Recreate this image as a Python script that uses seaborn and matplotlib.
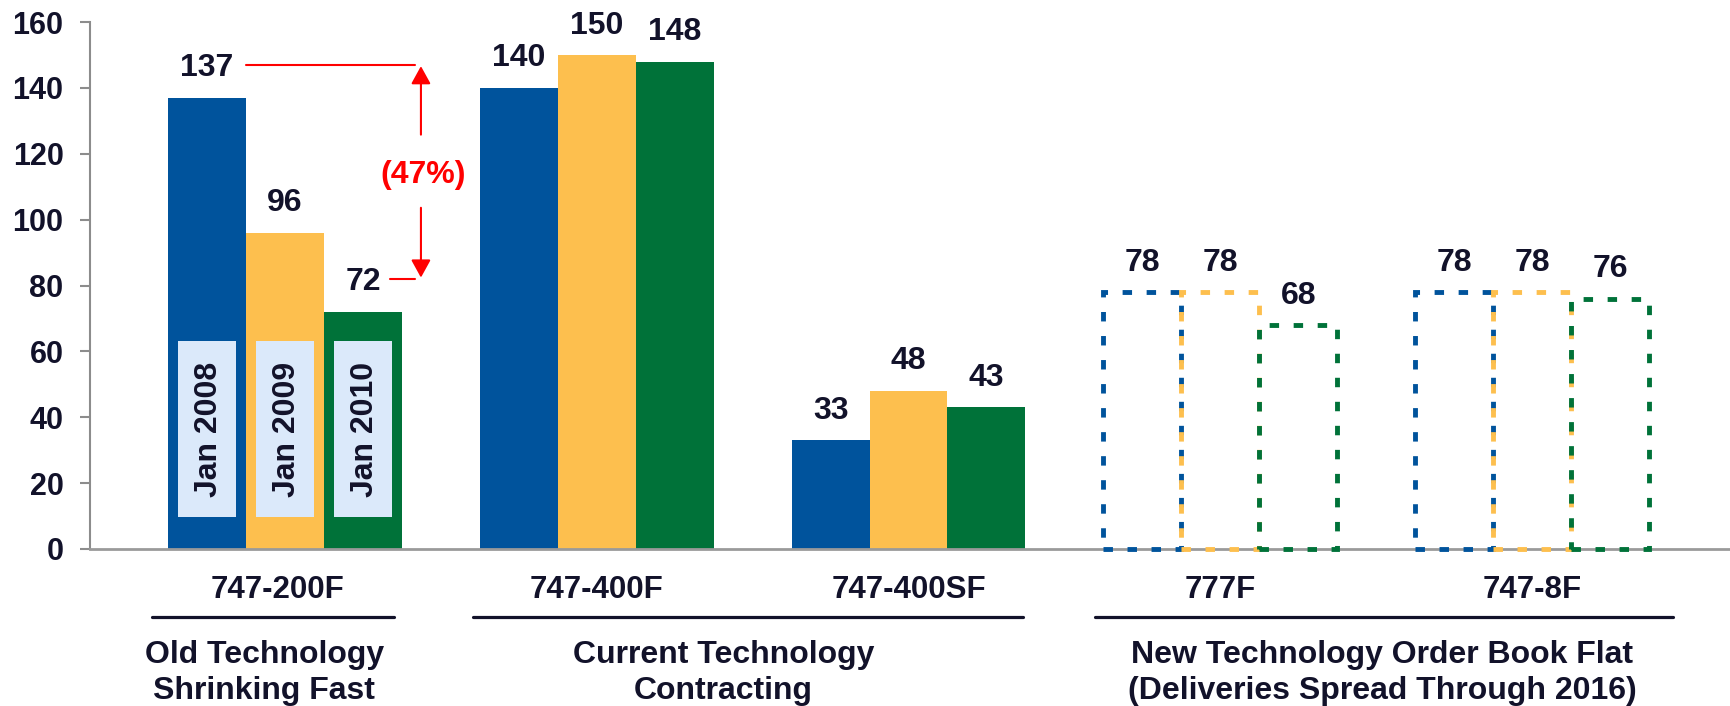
import matplotlib
matplotlib.use("Agg")
import matplotlib.pyplot as plt
from matplotlib.patches import Rectangle
from matplotlib.lines import Line2D
import seaborn as sns
import pandas as pd

# ---------------- data ----------------
aircraft = ["747-200F", "747-400F", "747-400SF", "777F", "747-8F"]
periods = ["Jan 2008", "Jan 2009", "Jan 2010"]
jan2008 = [137, 140, 33, 78, 78]
jan2009 = [96, 150, 48, 78, 78]
jan2010 = [72, 148, 43, 68, 76]
order_book = ["777F", "747-8F"]          # shown as dashed outlines
group_titles = ["Old Technology\nShrinking Fast",
                "Current Technology\nContracting",
                "New Technology Order Book Flat\n(Deliveries Spread Through 2016)"]
group_members = [["747-200F"], ["747-400F", "747-400SF"], ["777F", "747-8F"]]
y_ticks = [0, 20, 40, 60, 80, 100, 120, 140, 160]

# ---------------- style ----------------
colors = ["#00539C", "#FDBF4E", "#007239"]
navy = "#12122a"
red = "#FF0000"
box_col = "#DBE9FA"
FS = 23
FS_TICK = 22

sns.set_theme(style="white")
plt.rcParams["font.family"] = ["Liberation Sans", "DejaVu Sans"]
plt.rcParams["font.weight"] = "bold"
plt.rcParams["lines.scale_dashes"] = False

df = pd.DataFrame({
    "aircraft": aircraft * 3,
    "period": [p for p in periods for _ in aircraft],
    "count": jan2008 + jan2009 + jan2010,
})

W, H = 1730, 706
fig = plt.figure(figsize=(W / 100, H / 100), dpi=100)
ax_l, ax_r, ax_t, ax_b = 90, 1730, 22, 549
ax = fig.add_axes([ax_l / W, 1 - ax_b / H, (ax_r - ax_l) / W, (ax_b - ax_t) / H])

sns.barplot(data=df, x="aircraft", y="count", hue="period", order=aircraft,
            hue_order=periods, palette=colors, width=0.75, gap=0,
            saturation=1, errorbar=None, legend=False, linewidth=0, ax=ax)

ax.set_xlim(-0.6255, 4.635)
ax.set_ylim(0, 160)
ax.set_yticks(y_ticks)
ax.set_yticklabels([str(t) for t in y_ticks], fontsize=FS_TICK, fontweight="bold", color=navy)
ax.tick_params(axis="y", length=7, width=1.5, color="#8c8c8c", pad=12, left=True)
ax.set_xticks([])
ax.set_xlabel("")
ax.set_ylabel("")
for s in ["top", "right"]:
    ax.spines[s].set_visible(False)
ax.spines["left"].set_color("#8c8c8c")
ax.spines["left"].set_linewidth(1.5)
ax.spines["bottom"].set_color("#9a9a9a")
ax.spines["bottom"].set_linewidth(2)

ppu_y = (ax_b - ax_t) / 160.0

vals = {p: v for p, v in zip(periods, [jan2008, jan2009, jan2010])}
label_off = 10.0                           # label centre above bar top (data units)
base_shift = 11.5 / ppu_y                  # centre -> baseline
bar_pos = {}
for hi, cont in enumerate(ax.containers):
    for bar in cont:
        xc = bar.get_x() + bar.get_width() / 2
        ci = int(round(xc))
        cat = aircraft[ci]
        v = vals[periods[hi]][ci]
        bar_pos[(periods[hi], cat)] = (xc, bar.get_width(), v)
        if cat in order_book:
            bar.set_facecolor("none")
            bar.set_edgecolor(colors[hi])
            bar.set_linewidth(3.5)
            bar.set_linestyle((0, (6.8, 10.5)))
            bar.set_clip_on(False)
            bar.set_zorder(3)
        ax.text(xc, v + label_off - base_shift, str(v), ha="center", va="baseline",
                fontsize=FS, fontweight="bold", color=navy)

# period labels inside first group's bars
for hi, p in enumerate(periods):
    xc, bw, v = bar_pos[(p, aircraft[0])]
    bx = 0.186
    ax.add_patch(Rectangle((xc - bx / 2, 9.7), bx, 53.5, facecolor=box_col,
                           edgecolor="none", zorder=3))
    ax.text(xc + 0.005, 36.4, p, rotation=90, ha="center", va="center",
            fontsize=FS, fontweight="bold", color=navy, zorder=4)

# red (47%) annotation
c0 = aircraft[0]
x0, bw, v0 = bar_pos[(periods[0], c0)]
x2, _, v2 = bar_pos[(periods[-1], c0)]
top_y = v0 + label_off
bot_y = v2 + label_off
mid_y = (top_y + bot_y) / 2
arr_x = 0.436
ax.add_line(Line2D([x0 + bw / 2, arr_x - 0.02], [top_y, top_y], color=red, lw=1.5))
ax.add_line(Line2D([x2 + 0.087, arr_x - 0.02], [bot_y, bot_y], color=red, lw=1.5))
aprops = dict(arrowstyle="-|>,head_length=0.4,head_width=0.22", color=red, lw=1.5,
              shrinkA=0, shrinkB=0, mutation_scale=27)
ax.annotate("", xy=(arr_x, top_y - 0.4), xytext=(arr_x, mid_y + 11.3), arrowprops=aprops)
ax.annotate("", xy=(arr_x, bot_y + 0.4), xytext=(arr_x, mid_y - 10.9), arrowprops=aprops)
pct = round((v2 - v0) / v0 * 100)
ax.text(arr_x + 0.007, mid_y - base_shift, f"({abs(pct)}%)", ha="center", va="baseline",
        fontsize=FS, fontweight="bold", color=red)

# category labels, underlines and group titles below the axis
xt = ax.get_xaxis_transform()
def yfrac(py):
    return (ax_b - py) / (ax_b - ax_t)

base_px = 11.5
for i, cat in enumerate(aircraft):
    nud = -0.025 if i == 0 else 0
    ax.text(i + nud, yfrac(587 + base_px), cat, transform=xt, ha="center", va="baseline",
            fontsize=22.5, fontweight="bold", color=navy, clip_on=False)

spans = [(-0.427, 0.35), (0.603, 2.367), (2.598, 4.452)]
title_x = [-0.067, 1.407, 3.52]
for (a, b), tx, title in zip(spans, title_x, group_titles):
    ax.add_line(Line2D([a, b], [yfrac(617)] * 2, transform=xt, color=navy, lw=2.3,
                       clip_on=False))
    for li, line in enumerate(title.split("\n")):
        ax.text(tx, yfrac(652 + 36 * li + base_px), line, transform=xt, ha="center",
                va="baseline", fontsize=FS, fontweight="bold", color=navy, clip_on=False)

fig.savefig("out.png", dpi=100)
